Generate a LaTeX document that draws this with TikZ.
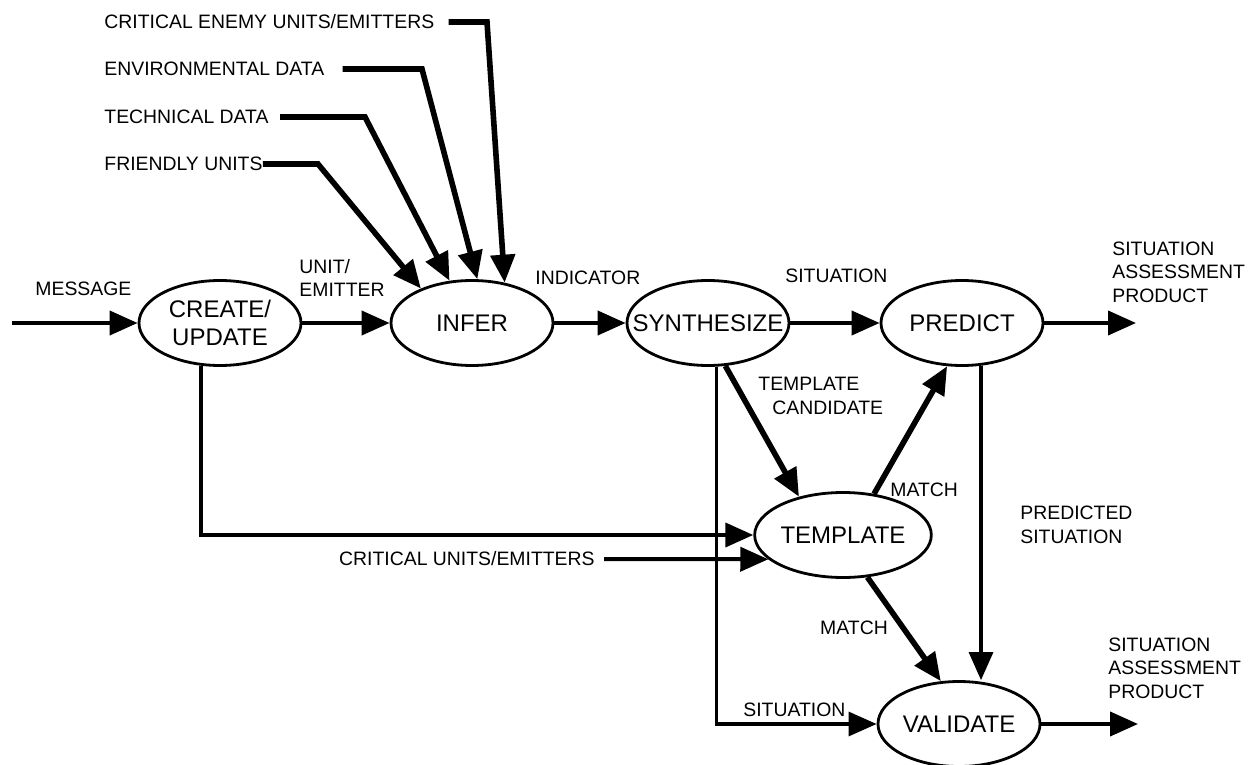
\documentclass[tikz,border=0pt]{standalone}
\usepackage{fontspec}
\setmainfont{Liberation Sans}
\usetikzlibrary{arrows.meta,shapes.geometric,calc}

\begin{document}
\begin{tikzpicture}[x=0.5pt,y=-0.5pt,
  proc/.style={ellipse,draw,line width=1.4pt,minimum width=81pt,minimum height=42.5pt,
               inner sep=0pt,font=\fontsize{12}{13.7}\selectfont,align=center},
  lbl/.style={inner sep=0pt,font=\fontsize{9.7}{11.75}\selectfont,align=left},
  tip/.style={-{Triangle[length=14pt,width=12pt]}},
  flow/.style={tip,line width=2pt},
  feed/.style={tip,line width=1.6pt},
  heavy/.style={tip,line width=2.8pt},
]
\fill[white] (0,0) rectangle (1259,765);
\useasboundingbox (0,0) rectangle (1259,765);

% process bubbles
\node[proc] (cu)  at (220,323) {CREATE/\\UPDATE};
\node[proc] (inf) at (472,323) {INFER};
\node[proc] (syn) at (708,323) {\makebox[0pt]{SYNTHESIZE}};
\node[proc] (pre) at (962,323) {PREDICT};
\node[proc] (tem) at (843,535) {TEMPLATE};
\node[proc] (val) at (959,724) {VALIDATE};

% main chain
\node[lbl,anchor=west] (msg) at (35,289) {MESSAGE};
\coordinate (src) at (12,323);
\draw[flow] (src) -- (cu.west);
\node[lbl,anchor=west] (ue) at (299,278) {UNIT/\\EMITTER};
\draw[flow] (cu.east) -- (inf.west);
\node[lbl,anchor=west] (ind) at (535,278) {INDICATOR};
\draw[flow] (inf.east) -- (syn.west);
\node[lbl,anchor=west] (sit1) at (785,276) {SITUATION};
\draw[flow] (syn.east) -- (pre.west);
\node[lbl,anchor=west] (sap1) at (1112,272) {SITUATION\\ASSESSMENT\\PRODUCT};
\coordinate (out1) at (1136,323);
\draw[flow] (pre.east) -- (out1);

% inputs to INFER
\node[lbl,anchor=west] (ce) at (104,22)  {CRITICAL ENEMY UNITS/EMITTERS};
\node[lbl,anchor=west] (ed) at (104,69)  {ENVIRONMENTAL DATA};
\node[lbl,anchor=west] (td) at (104,117) {TECHNICAL DATA};
\node[lbl,anchor=west] (fu) at (104,164) {FRIENDLY UNITS};
\draw[heavy,shorten <=7pt] (ce.east) -- (487,22) -- (inf.51);
\draw[heavy,shorten <=9pt] (ed.east) -- (422,69) -- (inf.83);
\draw[heavy,shorten <=5.5pt] (td.east) -- (365,117) -- (inf.118);
\draw[heavy] (fu.east) -- (318,164) -- (inf.146);

% feeds into TEMPLATE
\draw[flow] (cu.246) |- (tem.west);
\node[lbl,anchor=east] (cue) at (595,559) {CRITICAL UNITS/EMITTERS};
\draw[flow,shorten <=4.5pt] (cue.east) -- (tem.198);
\draw[heavy] (syn.292) -- (tem.139);
\node[lbl,anchor=west] (tc) at (758,396) {TEMPLATE\\\hspace*{7pt}CANDIDATE};

% towards PREDICT and VALIDATE
\draw[heavy] (tem.53) -- (pre.251);
\node[lbl,anchor=west] (m1) at (890,490) {MATCH};
\draw[heavy] (tem.300) -- (val.113);
\node[lbl] (m2) at (854,628) {MATCH};
\draw[feed] (syn.281) |- (val.west);
\node[lbl,anchor=west] (sit2) at (743,710) {SITUATION};
\draw[feed] (pre.294) -- (pre.294 |- val.north);
\node[lbl,anchor=west] (ps) at (1020,525) {PREDICTED\\SITUATION};

% final product
\coordinate (out2) at (1138,724);
\draw[flow] (val.east) -- (out2);
\node[lbl,anchor=west] (sap2) at (1108,668) {SITUATION\\ASSESSMENT\\PRODUCT};
\end{tikzpicture}
\end{document}
